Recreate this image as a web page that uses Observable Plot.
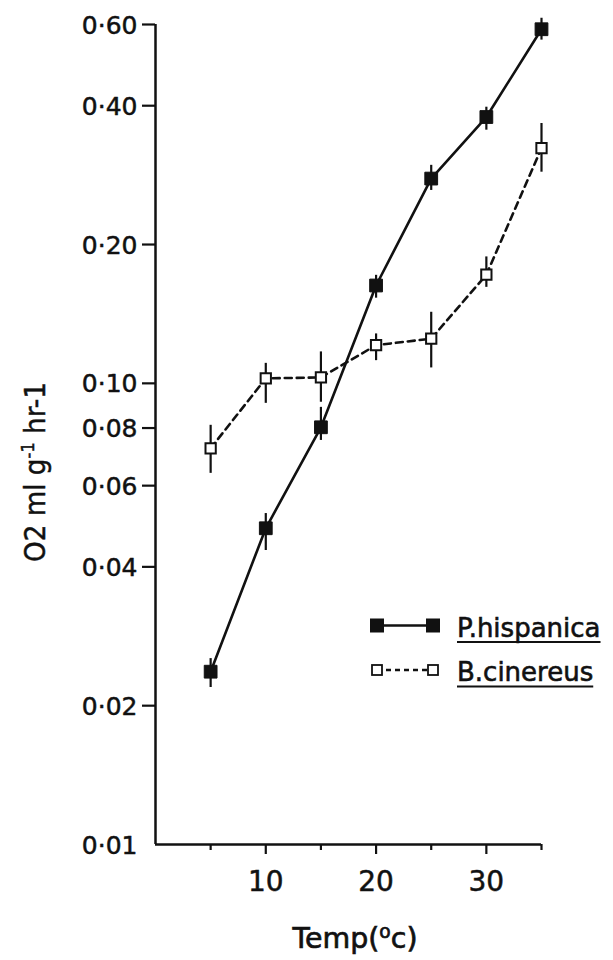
<!DOCTYPE html>
<html><head><meta charset="utf-8">
<script src="https://cdn.jsdelivr.net/npm/d3@7"></script>
<script src="https://cdn.jsdelivr.net/npm/@observablehq/plot@0.6"></script>
<style>
html,body{margin:0;padding:0;background:#fff;}
#chart{position:relative;width:613px;height:960px;}
#chart svg text{paint-order:stroke;}
</style></head><body><div id="chart"></div>
<script>
// Temperatures (°C)
const temps = [5, 10, 15, 20, 25, 30, 35];
// P. hispanica O2 consumption (ml g-1 hr-1): mean and error-bar ends
const hispMean = [0.0237, 0.0485, 0.0803, 0.163, 0.278, 0.378, 0.586];
const hispLow  = [0.0219, 0.0434, 0.0752, 0.153, 0.262, 0.354, 0.555];
const hispHigh = [0.0253, 0.0522, 0.0887, 0.1715, 0.297, 0.397, 0.619];
// B. cinereus
const cinMean = [0.0723, 0.1025, 0.103, 0.121, 0.125, 0.172, 0.3235];
const cinLow  = [0.0638, 0.0905, 0.091, 0.112, 0.108, 0.1615, 0.287];
const cinHigh = [0.0811, 0.1105, 0.117, 0.128, 0.1426, 0.188, 0.366];
// Axis ticks
const yTicks = [0.02, 0.04, 0.06, 0.08, 0.10, 0.20, 0.40, 0.60];
const yLabels = [0.01, 0.02, 0.04, 0.06, 0.08, 0.10, 0.20, 0.40, 0.60];
const xMajorTicks = [10, 20, 30];
const xMinorTicks = [5, 15, 25, 35];
const seriesNames = ["P.hispanica", "B.cinereus"];

const hisp = temps.map((t, i) => ({t, v: hispMean[i], lo: hispLow[i], hi: hispHigh[i]}));
const cin = temps.map((t, i) => ({t, v: cinMean[i], lo: cinLow[i], hi: cinHigh[i]}));
const fmt = d => d.toFixed(2).replace(".", "·");
const FONT = "DejaVu Sans";
const INK = "#111";

const chart = Plot.plot({
  width: 613,
  height: 960,
  marginLeft: 155,
  marginRight: 72,
  marginTop: 24,
  marginBottom: 116,
  style: {fontFamily: FONT, color: INK, background: "white", overflow: "visible"},
  x: {domain: [0, 35], label: null},
  y: {type: "log", domain: [0.01, 0.6], label: null},
  marks: [
    Plot.axisY({ticks: yTicks, tickSize: 13, tickFormat: () => "", strokeWidth: 2.2, stroke: INK, label: null}),
    Plot.text(yLabels, {x: 0, y: d => d, text: fmt, textAnchor: "end", dx: -18, dy: 1, fontSize: 25,
      fill: INK, stroke: INK, strokeWidth: 0.5, style: "letter-spacing:2px"}),
    Plot.axisX({ticks: xMajorTicks, tickSize: 10, tickPadding: 17, fontSize: 28, strokeWidth: 2.2, stroke: INK, fill: INK, label: null}),
    Plot.axisX({ticks: xMinorTicks, tickSize: 6, tickFormat: () => "", strokeWidth: 2.2, stroke: INK, label: null}),
    Plot.ruleX([0], {stroke: INK, strokeWidth: 2.5}),
    Plot.ruleY([0.01], {stroke: INK, strokeWidth: 2.5}),
    Plot.line(hisp, {x: "t", y: "v", stroke: INK, strokeWidth: 2.6}),
    Plot.line(cin, {x: "t", y: "v", stroke: INK, strokeWidth: 2.6, strokeDasharray: "7,5"}),
    Plot.ruleX(hisp, {x: "t", y1: "lo", y2: "hi", stroke: INK, strokeWidth: 2.2}),
    Plot.ruleX(cin, {x: "t", y1: "lo", y2: "hi", stroke: INK, strokeWidth: 2.2}),
    Plot.dot(hisp, {x: "t", y: "v", symbol: "square", r: 7.2, fill: INK, stroke: INK, strokeWidth: 1}),
    Plot.dot(cin, {x: "t", y: "v", symbol: "square", r: 5.8, fill: "white", stroke: INK, strokeWidth: 2})
  ]
});
document.getElementById("chart").appendChild(chart);

const svg = d3.select(chart);
// x tick labels a touch heavier
svg.selectAll('[aria-label="x-axis tick label"] text').attr("stroke", INK).attr("stroke-width", 0.5);

// Y-axis title
const yt = svg.append("text")
  .attr("transform", "translate(45,472) rotate(-90)")
  .attr("text-anchor", "middle")
  .attr("font-family", FONT)
  .attr("font-size", 29)
  .attr("fill", INK)
  .attr("stroke", INK).attr("stroke-width", 0.5)
  .attr("textLength", 180)
  .attr("lengthAdjust", "spacingAndGlyphs");
yt.append("tspan").text("O2 ml g");
yt.append("tspan").attr("font-size", 18).attr("dy", -11).text("-1");
yt.append("tspan").attr("dy", 11).text(" hr-1");

// X-axis title
const xt = svg.append("text")
  .attr("x", 355).attr("y", 948)
  .attr("text-anchor", "middle")
  .attr("font-family", FONT)
  .attr("font-size", 29)
  .attr("fill", INK)
  .attr("stroke", INK).attr("stroke-width", 0.7)
  .attr("textLength", 125)
  .attr("lengthAdjust", "spacingAndGlyphs");
xt.append("tspan").text("Temp(");
xt.append("tspan").attr("font-size", 19).attr("dy", -10).text("o");
xt.append("tspan").attr("dy", 10).text("c)");

// Legend
const legend = svg.append("g").attr("font-family", FONT).attr("text-anchor", "start");
const rows = [
  {name: seriesNames[0], cy: 625.5, dash: null, fill: INK, side: 13, sw: 1},
  {name: seriesNames[1], cy: 670, dash: "5,4", fill: "white", side: 10, sw: 1.8}
];
rows.forEach(r => {
  legend.append("line").attr("x1", 377).attr("x2", 433).attr("y1", r.cy).attr("y2", r.cy)
    .attr("stroke", INK).attr("stroke-width", 2.4).attr("stroke-dasharray", r.dash);
  [377, 433].forEach(cx => {
    legend.append("rect").attr("x", cx - r.side / 2).attr("y", r.cy - r.side / 2)
      .attr("width", r.side).attr("height", r.side)
      .attr("fill", r.fill).attr("stroke", INK).attr("stroke-width", r.sw);
  });
  const tx = legend.append("text").attr("x", 457).attr("y", r.cy + 11)
    .attr("text-anchor", "start")
    .attr("font-size", 26).attr("fill", INK)
    .attr("stroke", INK).attr("stroke-width", 0.6)
    .text(r.name);
  const w = tx.node().getComputedTextLength();
  legend.append("line").attr("x1", 457).attr("x2", 457 + w)
    .attr("y1", r.cy + 16.5).attr("y2", r.cy + 16.5)
    .attr("stroke", INK).attr("stroke-width", 2.2);
});
</script>
</body></html>
